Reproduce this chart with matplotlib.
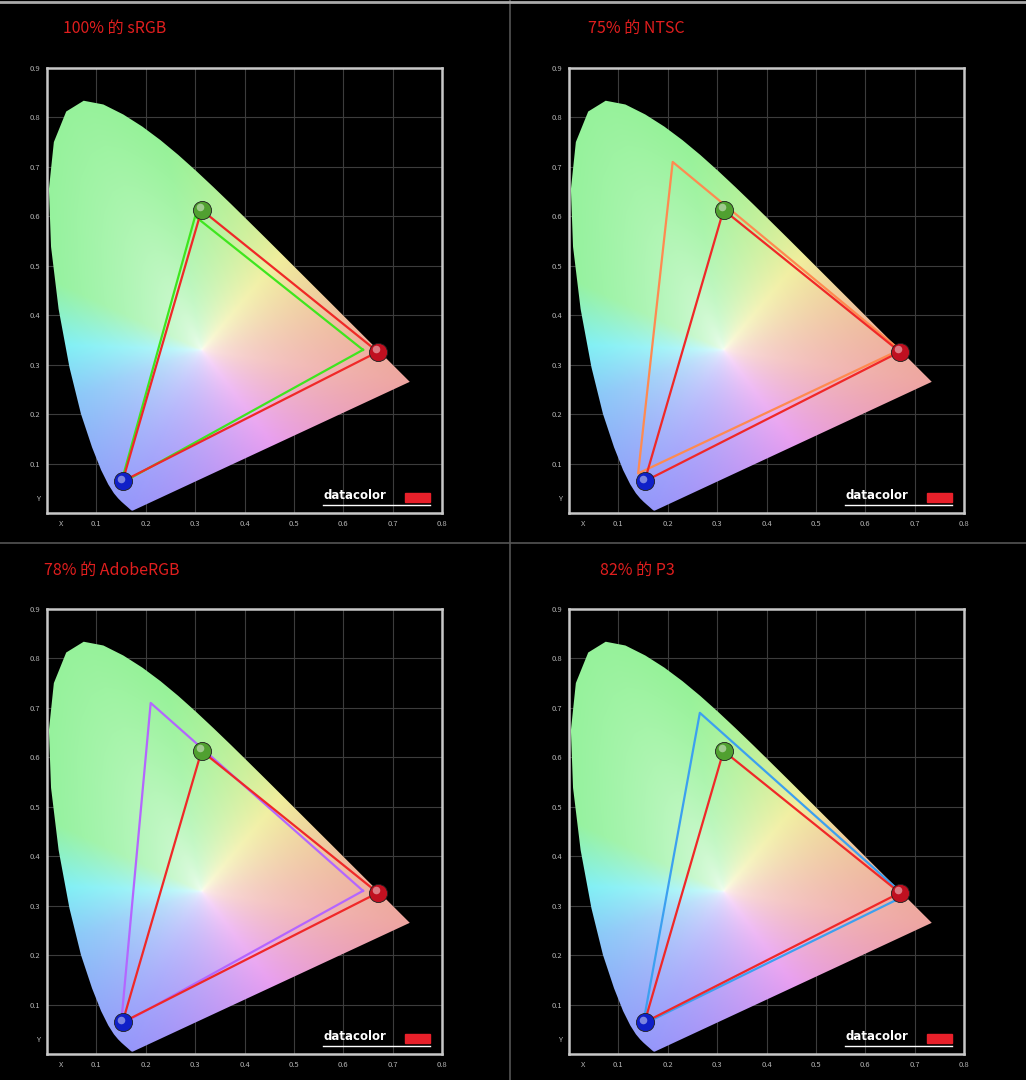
import numpy as np
import matplotlib
matplotlib.use("Agg")
import matplotlib.pyplot as plt
from matplotlib.patches import Polygon

plt.rcParams['font.family'] = ['Noto Sans CJK SC', 'DejaVu Sans']

# CIE 1931 spectral locus (x, y), 380..700 nm
locus_x = [0.1741,0.1740,0.1738,0.1736,0.1733,0.1730,0.1726,0.1721,0.1714,0.1703,0.1689,0.1669,0.1644,0.1611,0.1566,0.1510,0.1440,0.1355,0.1241,0.1096,0.0913,0.0687,0.0454,0.0235,0.0082,0.0039,0.0139,0.0389,0.0743,0.1142,0.1547,0.1929,0.2296,0.2658,0.3016,0.3373,0.3731,0.4087,0.4441,0.4788,0.5125,0.5448,0.5752,0.6029,0.6270,0.6482,0.6658,0.6801,0.6915,0.7006,0.7079,0.7140,0.7190,0.7230,0.7260,0.7283,0.7300,0.7347]
locus_y = [0.0050,0.0050,0.0049,0.0049,0.0048,0.0048,0.0048,0.0048,0.0051,0.0058,0.0069,0.0086,0.0109,0.0138,0.0177,0.0227,0.0297,0.0399,0.0578,0.0868,0.1327,0.2007,0.2950,0.4127,0.5384,0.6548,0.7502,0.8120,0.8338,0.8262,0.8059,0.7816,0.7543,0.7243,0.6923,0.6589,0.6245,0.5896,0.5547,0.5202,0.4866,0.4544,0.4242,0.3965,0.3725,0.3514,0.3340,0.3197,0.3083,0.2993,0.2920,0.2859,0.2809,0.2770,0.2740,0.2717,0.2700,0.2653]

device_x = [0.670, 0.313, 0.153]
device_y = [0.326, 0.613, 0.064]

titles = ["100% 的 sRGB", "75% 的 NTSC", "78% 的 AdobeRGB", "82% 的 P3"]
ref_x = [[0.64, 0.30, 0.15], [0.67, 0.21, 0.14], [0.64, 0.21, 0.15], [0.68, 0.265, 0.15]]
ref_y = [[0.33, 0.60, 0.06], [0.33, 0.71, 0.08], [0.33, 0.71, 0.06], [0.32, 0.69, 0.06]]
ref_colors = ["#3ee61e", "#ff8a50", "#b466ff", "#3ca0f0"]

xtick_labels = ["X", "0.1", "0.2", "0.3", "0.4", "0.5", "0.6", "0.7", "0.8"]
ytick_labels = ["Y", "0.1", "0.2", "0.3", "0.4", "0.5", "0.6", "0.7", "0.8", "0.9"]

# ---- gamut colour image (hue by angle around white point) ----
wx, wy = 0.3127, 0.329
anchor_ang = np.array([-8.6, 50, 100, 155, 178, 200, 246, 307, 351.4])
anchor_rgb = np.array([[238, 165, 160], [240, 238, 155], [150, 242, 152], [150, 242, 160],
                       [130, 240, 245], [140, 200, 248], [150, 150, 250], [232, 158, 240],
                       [238, 165, 160]]) / 255.0
lx_a, ly_a = np.array(locus_x), np.array(locus_y)
px, py = [], []
cx, cy = list(lx_a) + [lx_a[0]], list(ly_a) + [ly_a[0]]
for i in range(len(cx) - 1):
    tt = np.linspace(0, 1, 30, endpoint=False)
    px += list(cx[i] + (cx[i+1]-cx[i])*tt); py += list(cy[i] + (cy[i+1]-cy[i])*tt)
px, py = np.array(px), np.array(py)
b_ang = np.degrees(np.arctan2(py - wy, px - wx)) % 360
b_rad = np.hypot(px - wx, py - wy)
o = np.argsort(b_ang); b_ang, b_rad = b_ang[o], b_rad[o]

N = 500
gx, gy = np.meshgrid(np.linspace(0, 0.8, N), np.linspace(0, 0.9, N))
ang = np.degrees(np.arctan2(gy - wy, gx - wx)) % 360
angw = np.where(ang > 351.4, ang - 360, ang)
rad = np.hypot(gx - wx, gy - wy)
R = np.interp(ang, b_ang, b_rad, period=360)
t = np.clip(rad / R, 0, 1) ** 0.4
img = np.zeros(gx.shape + (3,))
for c in range(3):
    col = np.interp(angw, anchor_ang, anchor_rgb[:, c])
    img[..., c] = 1.0 + (col - 1.0) * t
img = np.clip(img, 0, 1)

fig = plt.figure(figsize=(10.26, 10.8), dpi=100, facecolor="black")
W, H = 1026, 1080
panels = [(47, 68), (569, 68), (47, 609), (569, 609)]
title_pos = [(63, 28), (588, 28), (44, 570), (600, 570)]
fig.add_artist(plt.Line2D([510/W, 510/W], [0, 1], color="#555555", lw=1.2))
fig.add_artist(plt.Line2D([0, 1], [1-543/H, 1-543/H], color="#555555", lw=1.2))
fig.add_artist(plt.Line2D([0, 1], [1-1.5/H, 1-1.5/H], color="#aaaaaa", lw=2))

for k in range(4):
    lx, ty = panels[k]
    ax = fig.add_axes([lx/W, 1-(ty+445)/H, 395/W, 445/H])
    ax.set_facecolor("black")
    ax.set_xlim(0, 0.8); ax.set_ylim(0, 0.9)
    for v in np.arange(0.1, 0.75, 0.1):
        ax.axvline(v, color="#3c3c3c", lw=0.8, zorder=0)
    for v in np.arange(0.1, 0.85, 0.1):
        ax.axhline(v, color="#3c3c3c", lw=0.8, zorder=0)
    poly = Polygon(np.column_stack([locus_x, locus_y]), closed=True, fc="none", ec="none")
    ax.add_patch(poly)
    im = ax.imshow(img, extent=[0, 0.8, 0, 0.9], origin="lower", aspect="auto", zorder=1,
                   interpolation="bilinear")
    im.set_clip_path(poly)
    rx = ref_x[k] + [ref_x[k][0]]; ry = ref_y[k] + [ref_y[k][0]]
    ax.plot(rx, ry, color=ref_colors[k], lw=1.6, zorder=3)
    dx = device_x + [device_x[0]]; dy = device_y + [device_y[0]]
    ax.plot(dx, dy, color="#f02828", lw=1.6, zorder=4)
    for (qx, qy, c) in zip(device_x, device_y, ["#c01020", "#50a030", "#1020c8"]):
        ax.scatter([qx], [qy], s=170, color=c, edgecolors="#202020", linewidths=0.6, zorder=5)
        ax.scatter([qx-0.004], [qy+0.005], s=30, color="white", alpha=0.45, zorder=6, linewidths=0)
    for s in ax.spines.values():
        s.set_color("#c8c8c8"); s.set_linewidth(1.8)
    ax.set_xticks([0.028] + list(np.arange(0.1, 0.85, 0.1)))
    ax.set_xticklabels(xtick_labels)
    ax.set_yticks([0.03] + list(np.arange(0.1, 0.95, 0.1)))
    ax.set_yticklabels(ytick_labels)
    ax.tick_params(length=0, labelsize=5.5, colors="#b4b4b4", pad=5)
    ax.text(0.559, 0.022, "datacolor", color="white", fontsize=8.5, fontweight="bold",
            family="DejaVu Sans", va="bottom", ha="left", zorder=7)
    ax.add_patch(plt.Rectangle((0.725, 0.022), 0.05, 0.018, color="#e8202a", zorder=7))
    ax.plot([0.559, 0.775], [0.016, 0.016], color="white", lw=1.0, zorder=7)
    tx, tyy = title_pos[k]
    fig.text(tx/W, 1-tyy/H, titles[k], color="#e01e1e", fontsize=11.5, va="center", ha="left")

fig.savefig("out.png", dpi=100, facecolor="black")
